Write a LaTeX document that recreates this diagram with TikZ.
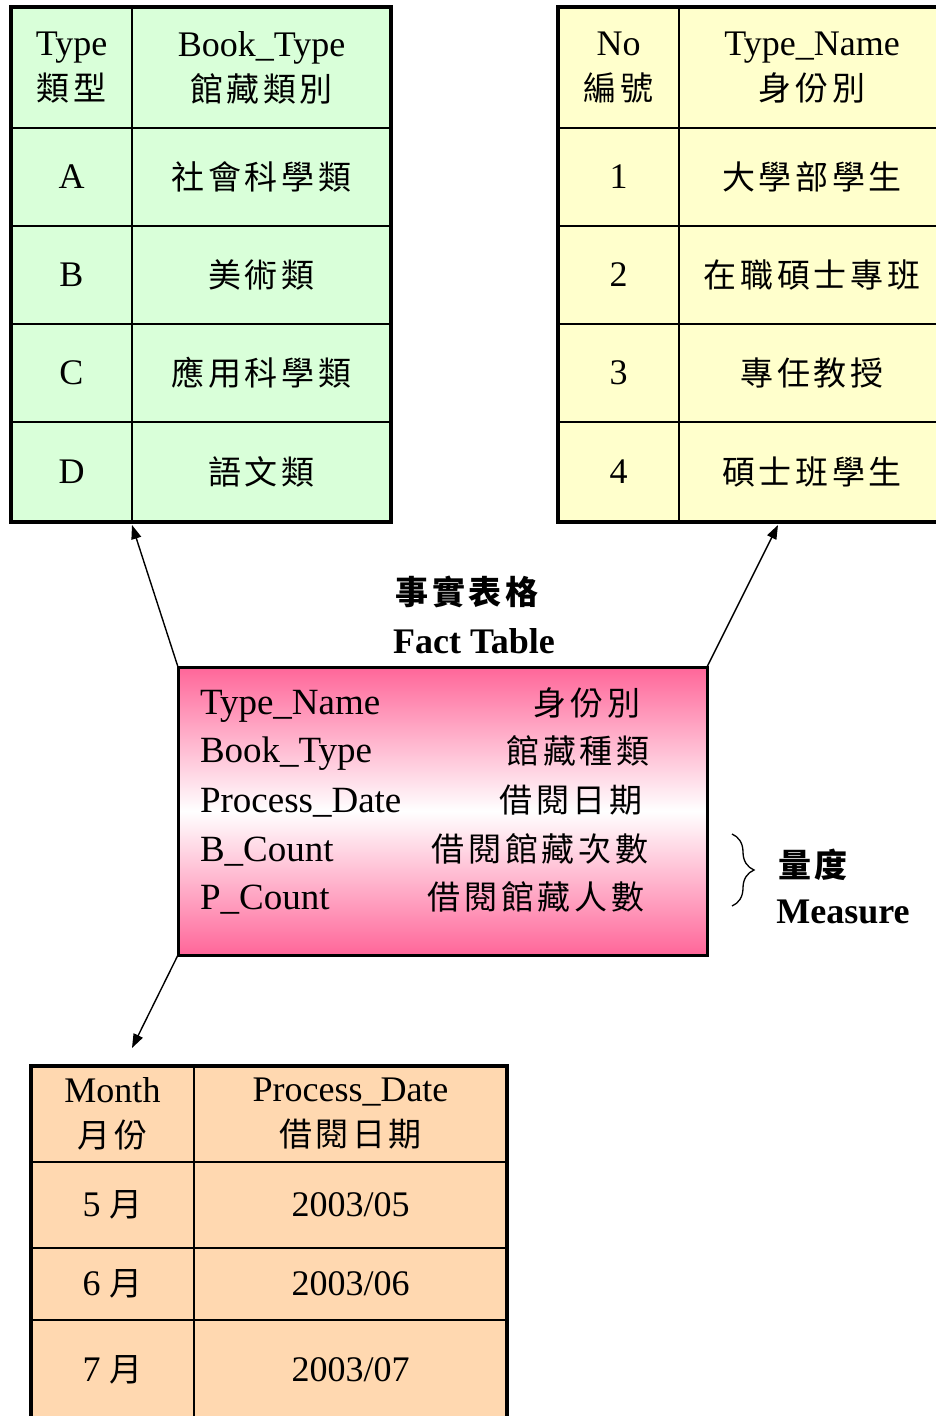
\documentclass[tikz,border=0pt]{standalone}
\usepackage{fontspec}
\setmainfont{Liberation Serif}
\newfontfamily\cjk[LetterSpace=11]{Noto Sans CJK TC}
\usetikzlibrary{arrows.meta,decorations.pathreplacing}
\definecolor{gfill}{RGB}{217,255,217}
\definecolor{yfill}{RGB}{255,255,204}
\definecolor{pfill}{RGB}{255,216,176}
\definecolor{factpink}{RGB}{255,102,153}
\newcommand\zh[1]{{\cjk\fontsize{33}{45}\selectfont #1}}
\newcommand\zhb[1]{{\cjk\bfseries\fontsize{33}{45}\selectfont #1}}
\begin{document}
\begin{tikzpicture}[x=1pt,y=-1pt,
  every node/.style={font=\fontsize{36}{45}\selectfont, inner sep=0pt, outer sep=0pt},
  cell/.style={draw=black, line width=1.6pt, anchor=north west, align=center},
  gcell/.style={cell, fill=gfill},
  ycell/.style={cell, fill=yfill},
  pcell/.style={cell, fill=pfill},
  frame/.style={draw=black, line width=4pt},
  arr/.style={draw=black, line width=1.4pt, -{Triangle[length=14pt,width=10pt]}},
  factbox/.style={draw=black, line width=3pt, anchor=north west, top color=factpink, bottom color=factpink, middle color=white, minimum width=529pt, minimum height=288pt},
  ftxt/.style={anchor=west, font=\fontsize{37}{45}\selectfont},
  fzh/.style={},
]
\useasboundingbox (0,0) rectangle (936,1416);
\clip (0,0) rectangle (936,1416);

% ---------- green table ----------
\node[gcell, minimum width=121pt, minimum height=121pt] (g00) at (11,7) {Type\\\zh{類型}};
\node[gcell, minimum width=259pt, minimum height=121pt] (g01) at (132,7) {Book\_Type\\\zh{館藏類別}};
\node[gcell, minimum width=121pt, minimum height=98pt] (g10) at (11,128) {A};
\node[gcell, minimum width=259pt, minimum height=98pt] (g11) at (132,128) {\zh{社會科學類}};
\node[gcell, minimum width=121pt, minimum height=98pt] (g20) at (11,226) {B};
\node[gcell, minimum width=259pt, minimum height=98pt] (g21) at (132,226) {\zh{美術類}};
\node[gcell, minimum width=121pt, minimum height=98pt] (g30) at (11,324) {C};
\node[gcell, minimum width=259pt, minimum height=98pt] (g31) at (132,324) {\zh{應用科學類}};
\node[gcell, minimum width=121pt, minimum height=100pt] (g40) at (11,422) {D};
\node[gcell, minimum width=259pt, minimum height=100pt] (g41) at (132,422) {\zh{語文類}};
\draw[frame] (g00.north west) rectangle (g41.south east);

% ---------- yellow table ----------
\node[ycell, minimum width=121pt, minimum height=121pt] (y00) at (558,7) {No\\\zh{編號}};
\node[ycell, minimum width=266pt, minimum height=121pt] (y01) at (679,7) {Type\_Name\\\zh{身份別}};
\node[ycell, minimum width=121pt, minimum height=98pt] (y10) at (558,128) {1};
\node[ycell, minimum width=266pt, minimum height=98pt] (y11) at (679,128) {\zh{大學部學生}};
\node[ycell, minimum width=121pt, minimum height=98pt] (y20) at (558,226) {2};
\node[ycell, minimum width=266pt, minimum height=98pt] (y21) at (679,226) {\zh{在職碩士專班}};
\node[ycell, minimum width=121pt, minimum height=98pt] (y30) at (558,324) {3};
\node[ycell, minimum width=266pt, minimum height=98pt] (y31) at (679,324) {\zh{專任教授}};
\node[ycell, minimum width=121pt, minimum height=100pt] (y40) at (558,422) {4};
\node[ycell, minimum width=266pt, minimum height=100pt] (y41) at (679,422) {\zh{碩士班學生}};
\draw[frame] (y00.north west) rectangle (y41.south east);

% ---------- peach table ----------
\node[pcell, minimum width=163pt, minimum height=96pt] (p00) at (31,1066) {Month\\\zh{月份}};
\node[pcell, minimum width=313pt, minimum height=96pt] (p01) at (194,1066) {Process\_Date\\\zh{借閱日期}};
\node[pcell, minimum width=163pt, minimum height=86pt] (p10) at (31,1162) {5 \zh{月}};
\node[pcell, minimum width=313pt, minimum height=86pt] (p11) at (194,1162) {2003/05};
\node[pcell, minimum width=163pt, minimum height=72pt] (p20) at (31,1248) {6 \zh{月}};
\node[pcell, minimum width=313pt, minimum height=72pt] (p21) at (194,1248) {2003/06};
\node[pcell, minimum width=163pt, minimum height=100pt] (p30) at (31,1320) {7 \zh{月}};
\node[pcell, minimum width=313pt, minimum height=100pt] (p31) at (194,1320) {2003/07};
\draw[frame] (p00.north west) rectangle (p31.south east);

% ---------- fact table ----------
\node[factbox] (fact) at (178,667) {};
\node[ftxt] (ft1) at (200,706) {Type\_Name};
\node[ftxt] (ft2) at (200,754) {Book\_Type};
\node[ftxt] (ft3) at (200,803) {Process\_Date};
\node[ftxt] (ft4) at (200,852) {B\_Count};
\node[ftxt] (ft5) at (200,900) {P\_Count};
\node[fzh] (fc1) at (587,703) {\zh{身份別}};
\node[fzh] (fc2) at (578,751) {\zh{館藏種類}};
\node[fzh] (fc3) at (571,800) {\zh{借閱日期}};
\node[fzh] (fc4) at (540,849) {\zh{借閱館藏次數}};
\node[fzh] (fc5) at (536,897) {\zh{借閱館藏人數}};

\node (title1) at (467,592) {\zhb{事實表格}};
\node[font=\fontsize{36}{45}\selectfont\bfseries] (title2) at (474,641) {Fact Table};

% ---------- measure brace ----------
\coordinate (brtop) at (732,834);
\coordinate (brbot) at (732,906);
\draw[decorate, decoration={brace, amplitude=22pt}, line width=1.3pt] (brtop) -- (brbot);
\node (meas1) at (813,865) {\zhb{量度}};
\node[font=\fontsize{36}{45}\selectfont\bfseries] (meas2) at (843,912) {Measure};

% ---------- connectors ----------
\coordinate (gtip) at (132,525);
\coordinate (ytip) at (778,525);
\coordinate (ptip) at (132,1048);
\draw[arr] (fact.north west) -- (gtip);
\draw[arr] (fact.north east) -- (ytip);
\draw[arr] (fact.south west) -- (ptip);
\end{tikzpicture}
\end{document}
